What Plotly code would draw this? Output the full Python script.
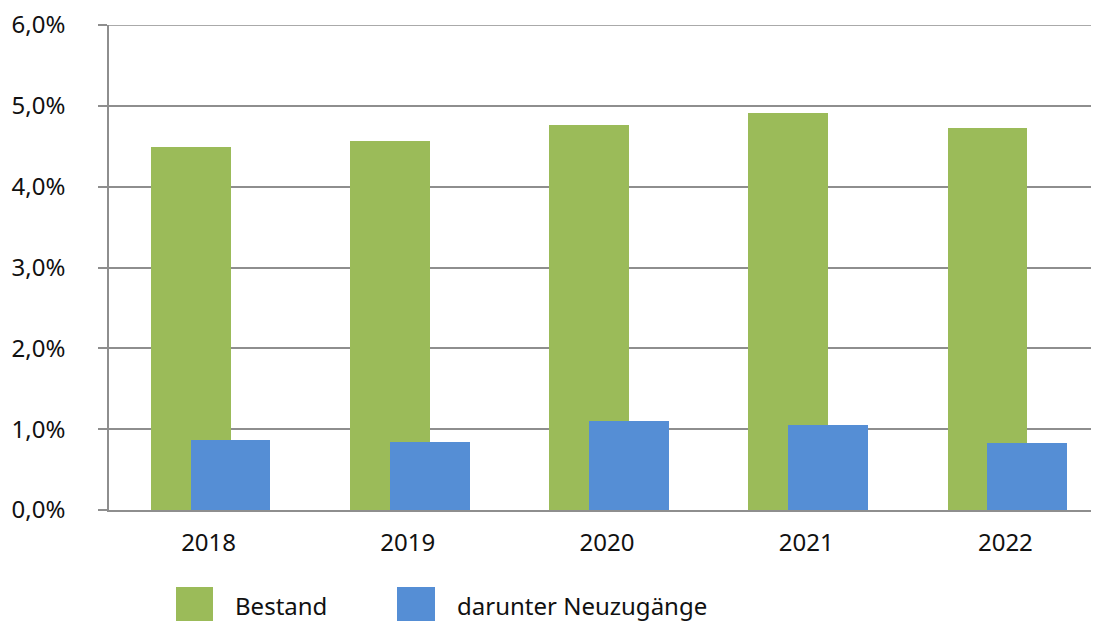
import plotly.graph_objects as go

years = ["2018", "2019", "2020", "2021", "2022"]
bestand = [4.49, 4.57, 4.76, 4.91, 4.73]
neuzugaenge = [0.87, 0.84, 1.10, 1.05, 0.83]
ytick_vals = [0, 1, 2, 3, 4, 5, 6]
ytick_labels = ["0,0%", "1,0%", "2,0%", "3,0%", "4,0%", "5,0%", "6,0%"]
series_names = ["Bestand", "darunter Neuzugänge"]

GREEN = "#9BBB59"
BLUE = "#558ED5"
GRID = "#8e8e8e"
FONT = "Noto Sans"
TXT = "#111111"

x_idx = list(range(len(years)))

fig = go.Figure()
fig.add_trace(go.Bar(x=x_idx, y=bestand, name=series_names[0], marker=dict(color=GREEN, line=dict(width=0)),
                     offset=-0.29, width=0.4, showlegend=False))
fig.add_trace(go.Bar(x=x_idx, y=neuzugaenge, name=series_names[1], marker=dict(color=BLUE, line=dict(width=0)),
                     offset=-0.09, width=0.4, showlegend=False))

# page body has an 8px default margin
OFF = 8
W, H = 1099 - OFF, 621 - OFF
ml, mr, mt, mb = 109 - OFF, 0, 25 - OFF, 111
pw = W - ml - mr
ph = H - mt - mb

def px_to_paper_x(px):
    return (px - OFF - ml) / pw

def py_to_paper_y(py):
    return (H - mb - (py - OFF)) / ph

# top gridline (plotly drops gridlines at the range end)
fig.add_shape(type="line", xref="paper", yref="y", x0=0, x1=1,
              y0=ytick_vals[-1], y1=ytick_vals[-1], line=dict(color=GRID, width=1.5), layer="below")

# manual legend
legend_items = [(series_names[0], GREEN, 176, 213, 233), (series_names[1], BLUE, 397, 435, 455)]
for name, col, x0, x1, tx in legend_items:
    fig.add_shape(type="rect", xref="paper", yref="paper",
                  x0=px_to_paper_x(x0), x1=px_to_paper_x(x1),
                  y0=py_to_paper_y(625), y1=py_to_paper_y(587),
                  fillcolor=col, line=dict(width=0), layer="above")
    fig.add_annotation(xref="paper", yref="paper", x=px_to_paper_x(tx), y=py_to_paper_y(605),
                       text=name, showarrow=False, xanchor="left", yanchor="middle",
                       font=dict(family=FONT, size=24, color=TXT))

fig.update_layout(
    width=W, height=H,
    margin=dict(l=ml, r=mr, t=mt, b=mb, pad=0, autoexpand=False),
    paper_bgcolor="white", plot_bgcolor="white",
    barmode="overlay",
    bargap=0,
    font=dict(family=FONT, size=24, color=TXT),
    xaxis=dict(
        tickmode="array", tickvals=x_idx, ticktext=years,
        range=[-0.5, 4.47],
        showgrid=False, zeroline=False,
        showline=True, linecolor=GRID, linewidth=1.5,
        ticks="", ticklabelstandoff=10,
        tickfont=dict(family=FONT, size=24, color=TXT),
        fixedrange=True, automargin=False,
    ),
    yaxis=dict(
        range=[0, 6],
        tickmode="array", tickvals=ytick_vals, ticktext=ytick_labels,
        showgrid=True, gridcolor=GRID, gridwidth=1.5,
        zeroline=False,
        showline=True, linecolor=GRID, linewidth=1.5,
        ticks="outside", ticklen=9, tickcolor=GRID, tickwidth=1.5,
        ticklabelstandoff=28, ticklabeloverflow="allow",
        tickfont=dict(family=FONT, size=24, color=TXT),
        fixedrange=True, automargin=False,
    ),
)

fig.write_html("out.html")
